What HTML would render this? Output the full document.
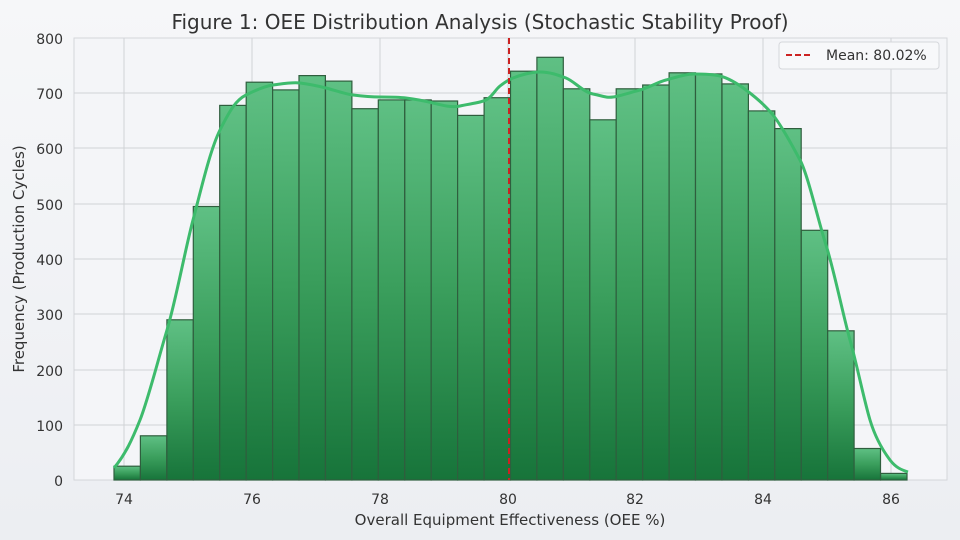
<!DOCTYPE html>
<html><head><meta charset="utf-8"><style>
html,body{margin:0;padding:0;width:960px;height:540px;overflow:hidden;background:#f1f2f5;}
text{font-family:"DejaVu Sans","Liberation Sans",sans-serif;fill:#333;}
</style></head><body>
<svg width="960" height="540" viewBox="0 0 960 540" xmlns="http://www.w3.org/2000/svg">
<defs>
<linearGradient id="bg" x1="0" y1="0" x2="0" y2="1"><stop offset="0" stop-color="#f6f7f9"/><stop offset="1" stop-color="#eceef2"/></linearGradient>
<linearGradient id="bar" x1="0" y1="0" x2="0" y2="1"><stop offset="0" stop-color="#5fc084"/><stop offset="0.5" stop-color="#3a9e5c"/><stop offset="1" stop-color="#17743a"/></linearGradient>
</defs>
<rect width="960" height="540" fill="url(#bg)"/>
<rect x="74" y="38" width="873" height="442" fill="#f4f5f8" stroke="#d4d6da"/>
<g stroke="#d0d2d6" stroke-width="1">
<line x1="74" x2="947" y1="425" y2="425"/><line x1="74" x2="947" y1="370" y2="370"/><line x1="74" x2="947" y1="314" y2="314"/><line x1="74" x2="947" y1="259" y2="259"/><line x1="74" x2="947" y1="204" y2="204"/><line x1="74" x2="947" y1="148" y2="148"/><line x1="74" x2="947" y1="93" y2="93"/>
<line y1="38" y2="480" x1="124" x2="124"/><line y1="38" y2="480" x1="252" x2="252"/><line y1="38" y2="480" x1="380" x2="380"/><line y1="38" y2="480" x1="508" x2="508"/><line y1="38" y2="480" x1="635" x2="635"/><line y1="38" y2="480" x1="763" x2="763"/><line y1="38" y2="480" x1="891" x2="891"/>
</g>
<g id="bars" fill="url(#bar)" stroke="#2f5e3e" stroke-width="1.2"></g>
<path fill="none" stroke="#3dbb6c" stroke-width="3" stroke-linejoin="round" d="M114,468 C125,455 132,440 140,420 S158,360 167,330 S185,250 193,220 S210,150 220,130 S236,100 246,95 S265,86 273,85 S292,82 300,83 S318,86 326,88 S345,94 353,95 S372,97 380,97 S398,97 406,98 S425,101 433,103 S452,108 460,106 S480,103 486,100 S495,90 500,86 S508,80 513,78 S530,72 540,72 S558,75 566,78 S583,92 593,94 S606,98 613,97 S632,92 640,90 S658,82 666,80 S685,74 693,74 S712,74 720,76 S738,84 746,90 S765,105 773,115 S792,145 800,160 S818,220 826,245 S843,315 850,340 S864,400 870,420 S884,452 890,460 S902,470 908,472"/>
<line x1="509" y1="38" x2="509" y2="480" stroke="#cc2222" stroke-width="2" stroke-dasharray="6,4"/>
<rect x="779" y="42" width="160" height="27" rx="3" fill="#f7f8fa" stroke="#d5d7db"/>
<line x1="786" y1="55" x2="813" y2="55" stroke="#cc2222" stroke-width="2" stroke-dasharray="6,3"/>
<text x="826" y="60" font-size="14">Mean: 80.02%</text>
<text x="480" y="29" font-size="20" text-anchor="middle">Figure 1: OEE Distribution Analysis (Stochastic Stability Proof)</text>
<g font-size="14" text-anchor="end">
<text x="63" y="486">0</text><text x="63" y="431">100</text><text x="63" y="376">200</text><text x="63" y="320">300</text><text x="63" y="265">400</text><text x="63" y="210">500</text><text x="63" y="154">600</text><text x="63" y="99">700</text><text x="63" y="44">800</text>
</g>
<g font-size="14" text-anchor="middle">
<text x="124" y="504">74</text><text x="252" y="504">76</text><text x="380" y="504">78</text><text x="508" y="504">80</text><text x="635" y="504">82</text><text x="763" y="504">84</text><text x="891" y="504">86</text>
</g>
<text x="510" y="525" font-size="15" text-anchor="middle">Overall Equipment Effectiveness (OEE %)</text>
<text transform="translate(24,259) rotate(-90)" font-size="15" text-anchor="middle">Frequency (Production Cycles)</text>
</svg>
<script>
var v=[25,80,290,495,678,720,706,732,722,672,688,688,686,660,692,740,765,708,652,708,715,737,735,717,668,636,452,270,57,12];
var g=document.getElementById('bars'),w=(907-114)/30,s='';
for(var i=0;i<v.length;i++){var h=v[i]*0.5525;s+='<rect x="'+(114+i*w).toFixed(1)+'" y="'+(480-h).toFixed(1)+'" width="'+w.toFixed(1)+'" height="'+h.toFixed(1)+'"/>';}
g.innerHTML=s;
</script>
</body></html>
